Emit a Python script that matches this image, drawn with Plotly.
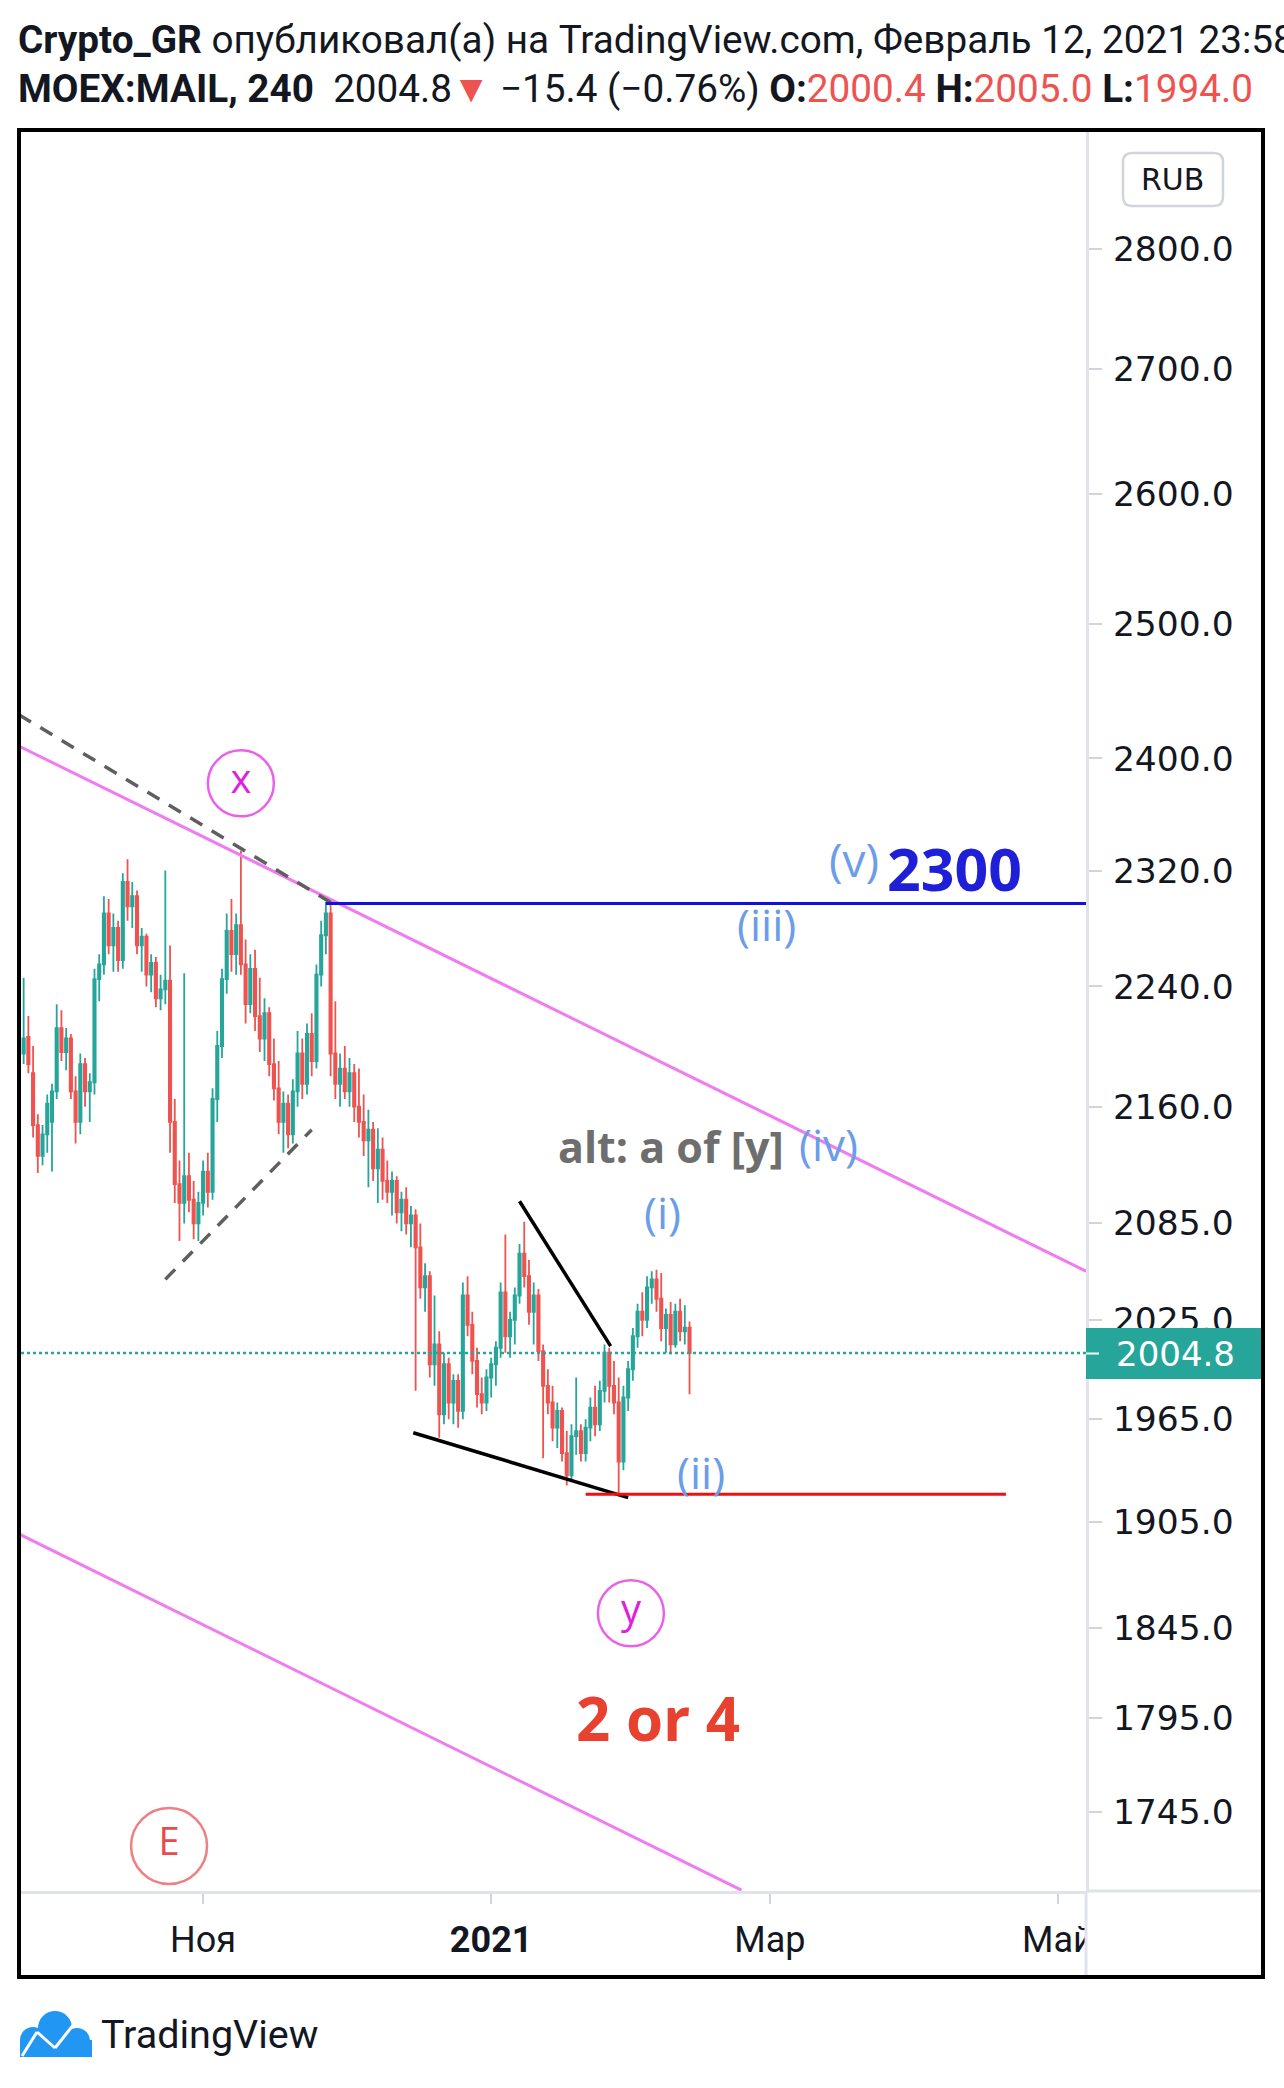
import numpy as np
import pandas as pd
import plotly.graph_objects as go

# ---------------- data ----------------
start_date = "2020-09-23"
opens = [2180, 2195, 2206, 2182, 2148, 2128, 2142, 2150, 2170, 2212,
         2196, 2205, 2170, 2150, 2188, 2170, 2176, 2245, 2255, 2290,
         2268, 2280, 2258, 2312, 2295, 2302, 2268, 2274, 2248, 2256,
         2232, 2238, 2244, 2150, 2110, 2098, 2115, 2100, 2085, 2098,
         2118, 2105, 2165, 2200, 2245, 2278, 2262, 2282, 2255, 2228,
         2252, 2220, 2205, 2222, 2188, 2172, 2150, 2162, 2142, 2170,
         2195, 2175, 2208, 2190, 2248, 2275, 2290, 2195, 2175, 2185,
         2170, 2182, 2160, 2150, 2138, 2145, 2120, 2132, 2112, 2105,
         2112, 2092, 2100, 2085, 2090, 2070, 2045, 2052, 1998, 2010,
         1968, 1998, 1975, 1988, 1970, 2040, 2022, 2000, 1980, 1975,
         1990, 1998, 2008, 2042, 2015, 2025, 2040, 2066, 2052, 2030,
         2040, 2006, 1985, 1975, 1960, 1970, 1945, 1932, 1955, 1958,
         1945, 1960, 1972, 1962, 1982, 2005, 1985, 1975, 1940, 1978,
         1995, 2015, 2030, 2025, 2045, 2050, 2038, 2020, 2028, 2010,
         2030, 2018, 2020.2]
highs = [2198, 2246, 2220, 2200, 2155, 2148, 2168, 2175, 2228, 2224,
         2212, 2208, 2180, 2195, 2192, 2182, 2252, 2262, 2302, 2300,
         2290, 2285, 2318, 2328, 2312, 2306, 2280, 2276, 2262, 2260,
         2248, 2320, 2268, 2165, 2125, 2249, 2130, 2112, 2105, 2125,
         2130, 2172, 2210, 2252, 2290, 2300, 2290, 2334, 2272, 2262,
         2265, 2246, 2232, 2226, 2205, 2190, 2170, 2168, 2178, 2210,
         2205, 2215, 2222, 2255, 2285, 2298, 2296, 2230, 2195, 2200,
         2192, 2188, 2185, 2168, 2158, 2150, 2146, 2140, 2125, 2118,
         2115, 2105, 2108, 2096, 2094, 2085, 2060, 2055, 2040, 2018,
         2005, 2002, 1992, 1992, 2048, 2052, 2030, 2008, 1990, 1995,
         2002, 2012, 2048, 2078, 2030, 2045, 2072, 2086, 2062, 2048,
         2044, 2010, 1995, 1985, 1975, 1972, 1958, 1962, 1990, 1962,
         1965, 1978, 1985, 1988, 2010, 2008, 2000, 1990, 1985, 2000,
         2020, 2035, 2042, 2052, 2055, 2056, 2054, 2032, 2036, 2035,
         2038, 2034, 2024]
lows = [2176, 2188, 2182, 2140, 2117, 2122, 2130, 2118, 2165, 2190,
        2184, 2165, 2136, 2142, 2160, 2150, 2168, 2230, 2248, 2262,
        2250, 2250, 2252, 2285, 2280, 2262, 2250, 2240, 2236, 2226,
        2224, 2228, 2130, 2098, 2074, 2085, 2092, 2075, 2074, 2090,
        2095, 2100, 2150, 2192, 2235, 2250, 2248, 2248, 2215, 2222,
        2210, 2196, 2190, 2180, 2164, 2142, 2130, 2133, 2136, 2160,
        2165, 2168, 2180, 2185, 2240, 2262, 2180, 2165, 2160, 2165,
        2160, 2150, 2140, 2128, 2108, 2112, 2098, 2100, 2098, 2090,
        2085, 2080, 2078, 2070, 1982, 2038, 2030, 1990, 1985, 1954,
        1962, 1965, 1962, 1960, 1965, 2015, 1992, 1972, 1968, 1970,
        1978, 1985, 2002, 2005, 2002, 2010, 2035, 2045, 2022, 2010,
        2000, 1942, 1968, 1952, 1948, 1940, 1926, 1928, 1944, 1940,
        1940, 1952, 1955, 1958, 1975, 1975, 1968, 1920, 1935, 1970,
        1988, 2008, 2015, 2020, 2035, 2030, 2012, 2005, 2004, 2008,
        2012, 2010, 1980]
closes = [2196, 2205, 2188, 2148, 2128, 2142, 2162, 2170, 2212, 2196,
          2205, 2170, 2150, 2188, 2170, 2176, 2245, 2255, 2290, 2268,
          2280, 2258, 2312, 2295, 2302, 2268, 2274, 2248, 2256, 2232,
          2238, 2244, 2150, 2110, 2098, 2115, 2100, 2085, 2098, 2118,
          2105, 2165, 2200, 2245, 2278, 2262, 2282, 2255, 2228, 2252,
          2220, 2205, 2222, 2188, 2172, 2150, 2162, 2142, 2170, 2195,
          2175, 2208, 2190, 2248, 2275, 2290, 2195, 2175, 2185, 2170,
          2182, 2160, 2150, 2138, 2145, 2120, 2132, 2112, 2105, 2112,
          2092, 2100, 2085, 2090, 2070, 2045, 2052, 1998, 2010, 1968,
          1998, 1975, 1988, 1970, 2040, 2022, 2000, 1980, 1975, 1990,
          1998, 2008, 2042, 2015, 2025, 2040, 2066, 2052, 2030, 2040,
          2006, 1985, 1975, 1960, 1970, 1945, 1932, 1955, 1958, 1945,
          1960, 1972, 1962, 1982, 2005, 1985, 1975, 1940, 1978, 1995,
          2015, 2030, 2025, 2045, 2050, 2038, 2020, 2028, 2010, 2030,
          2018, 2020.2, 2004.8]

last_price = 2004.8
price_ticks = [2800, 2700, 2600, 2500, 2400, 2320, 2240, 2160, 2085, 2025,
               1965, 1905, 1845, 1795, 1745]
price_ticktext = [f"{v:.1f}" for v in price_ticks]
month_ticks = ["2020-11-01", "2021-01-01", "2021-03-01", "2021-05-01"]
month_ticktext = ["Ноя", "<b>2021</b>", "Мар", "Май"]

# drawings (date, price)
upper_channel = (["2020-09-23", "2021-05-07"], [2409, 2055])
lower_channel = (["2020-09-23", "2021-02-23"], [1898, 1704])
dash_upper = (["2020-09-23", "2020-11-28 21:00"], [2432, 2296])
dash_lower = (["2020-10-24", "2020-11-24"], [2050, 2145])
wedge_upper = (["2021-01-07", "2021-01-26 07:00"], [2099, 2009])
wedge_lower = (["2020-12-15 12:00", "2021-01-30"], [1957, 1919])
target_level = (["2020-11-27", "2021-05-07"], 2297)
support_level = (["2021-01-21", "2021-04-20"], 1921)
circled_labels = ["x", "y", "E"]
circled_dates = ["2020-11-09", "2021-01-30 14:00", "2020-10-24 19:00"]
circled_prices = [2382, 1853, 1727]

dates = pd.date_range(start_date, periods=len(opens), freq="D")

# ---------------- layout helpers ----------------
W, H = 1284, 2088
PL, PR, PT, PB = 21, 1086, 132, 1891
PW, PH = PR - PL, PB - PT


def px(x, y):
    return (x - PL) / PW, (PB - y) / PH


UP, DOWN = "#26a69a", "#ef5350"
TXT = "#131722"
AXC = "#e0e3eb"
COND = "Roboto, Open Sans, sans-serif"
WIDE = "DejaVu Sans, Verdana, sans-serif"
LBL = "Open Sans, Lato, sans-serif"

fig = go.Figure()
fig.add_trace(go.Candlestick(
    x=dates, open=opens, high=highs, low=lows, close=closes,
    increasing=dict(line=dict(color=UP, width=1.8), fillcolor=UP),
    decreasing=dict(line=dict(color=DOWN, width=1.8), fillcolor=DOWN),
    whiskerwidth=0, showlegend=False, hoverinfo="skip",
))

# circled wave labels
circ_colors = ["#e01fe0", "#e01fe0", "#e84a4f"]
circ_sizes = [66, 66, 76]
fig.add_trace(go.Scatter(
    x=circled_dates, y=circled_prices, mode="markers+text",
    text=circled_labels, textposition="middle center",
    textfont=dict(size=[40, 40, 38], family=LBL, color=circ_colors),
    marker=dict(size=circ_sizes, color="rgba(0,0,0,0)",
                line=dict(color=circ_colors, width=2.5)),
    showlegend=False, hoverinfo="skip", cliponaxis=False,
))

shapes = []


def seg(pts, color, width, dash="solid"):
    xs, ys = pts
    shapes.append(dict(type="line", xref="x", yref="y", x0=xs[0], x1=xs[1],
                       y0=ys[0], y1=ys[1], line=dict(color=color, width=width, dash=dash)))


seg(upper_channel, "#ef7df0", 3)
seg(lower_channel, "#ef7df0", 3)
seg(dash_upper, "#5f5f5f", 3.5, "14px,11px")
seg(dash_lower, "#5f5f5f", 3.5, "14px,11px")
seg(wedge_upper, "#000000", 3.5)
seg(wedge_lower, "#000000", 3.5)
seg((target_level[0], [target_level[1]] * 2), "#1010e0", 3)
seg((support_level[0], [support_level[1]] * 2), "#ee1111", 3)

# last price dotted line
shapes.append(dict(type="line", xref="paper", yref="y", x0=0, x1=1,
                   y0=last_price, y1=last_price,
                   line=dict(color=UP, width=2.5, dash="dot")))


def prect(x0, y0, x1, y1, **kw):
    a, b = px(x0, y0)
    c, d = px(x1, y1)
    shapes.append(dict(type="rect", xref="paper", yref="paper",
                       x0=a, x1=c, y0=b, y1=d, **kw))


def pline(x0, y0, x1, y1, color, width):
    a, b = px(x0, y0)
    c, d = px(x1, y1)
    shapes.append(dict(type="line", xref="paper", yref="paper",
                       x0=a, x1=c, y0=b, y1=d, line=dict(color=color, width=width)))


# cover below price scale, then axis lines extension
prect(1087, 1893, 1262, 1976, fillcolor="white", line=dict(width=0), layer="above")
pline(1086, 1891, 1262, 1891, AXC, 3)
pline(1086, 1891, 1086, 1977, AXC, 3)
# last price tag
prect(1086, 1328, 1264, 1379, fillcolor=UP, line=dict(width=0), layer="above")
pline(1086, 1353.5, 1099, 1353.5, "white", 2)


def rounded(x0, y0, x1, y1, r):
    def P(x, y):
        a, b = px(x, y)
        return f"{a:.6f},{b:.6f}"
    return (f"M{P(x0 + r, y0)} L{P(x1 - r, y0)} Q{P(x1, y0)} {P(x1, y0 + r)} "
            f"L{P(x1, y1 - r)} Q{P(x1, y1)} {P(x1 - r, y1)} L{P(x0 + r, y1)} "
            f"Q{P(x0, y1)} {P(x0, y1 - r)} L{P(x0, y0 + r)} Q{P(x0, y0)} {P(x0 + r, y0)} Z")


shapes.append(dict(type="path", xref="paper", yref="paper",
                   path=rounded(1123, 153, 1223, 206, 9),
                   line=dict(color="#d1d4dc", width=2.5), fillcolor="white"))

# outer frame
prect(19, 130, 1263, 1977, line=dict(color="black", width=4), fillcolor="rgba(0,0,0,0)")

# TradingView logo (icon)
for cx, cy, r in [(33, 2040, 13), (55, 2028, 17), (77, 2041, 13)]:
    a0, b0 = px(cx - r, cy - r)
    a1, b1 = px(cx + r, cy + r)
    shapes.append(dict(type="circle", xref="paper", yref="paper", x0=a0, x1=a1,
                       y0=b0, y1=b1, fillcolor="#2196f3", line=dict(width=0)))
prect(20, 2040, 92, 2057, fillcolor="#2196f3", line=dict(width=0))
pts = [(22, 2056), (37, 2032), (55, 2048), (74, 2024)]
for (xa, ya), (xb, yb) in zip(pts[:-1], pts[1:]):
    pline(xa, ya, xb, yb, "white", 3)

annotations = []


def ptext(x, y, text, size, family=COND, color=TXT, xanchor="left"):
    a, b = px(x, y)
    annotations.append(dict(xref="paper", yref="paper", x=a, y=b, text=text,
                            showarrow=False, xanchor=xanchor, yanchor="middle",
                            font=dict(size=size, family=family, color=color)))


def dtext(date, price, text, size, color, bold=False, family=LBL):
    t = f"<b>{text}</b>" if bold else text
    annotations.append(dict(xref="x", yref="y", x=date, y=np.log10(price), text=t,
                            showarrow=False, xanchor="center", yanchor="middle",
                            font=dict(size=size, family=family, color=color)))


red = "#ef5350"
ptext(16, 40, "<b>Crypto_GR</b> опубликовал(а) на TradingView.com, Февраль 12, 2021 23:58", 38.7)
ptext(16, 88, f"<b>MOEX:MAIL, 240</b>&nbsp; {last_price}<span style='color:{red}'>▼</span> −15.4 (−0.76%) "
      f"<b>O:</b><span style='color:{red}'>2000.4</span> <b>H:</b><span style='color:{red}'>2005.0</span> "
      f"<b>L:</b><span style='color:{red}'>1994.0</span>", 38.7)
ptext(99, 2034, "TradingView", 39.5)
ptext(1173, 179.5, "RUB", 30, family=WIDE, xanchor="center")
ptext(1175, 1353.5, f"{last_price}", 34, family=WIDE, color="white", xanchor="center")

WAVE = "#6b9de8"
dtext("2021-03-18 19:00", 2328, "(v)", 46, WAVE)
dtext("2021-04-09", 2322, "2300", 59, "#1f1fd8", bold=True)
dtext("2021-02-28 05:00", 2283, "(iii)", 44, WAVE)
dtext("2021-02-08", 2134, "alt: a of [y]", 43, "#6e6e6e", bold=True)
dtext("2021-03-13 12:00", 2136, "(iv)", 44, WAVE)
dtext("2021-02-06 05:00", 2092, "(i)", 44, WAVE)
dtext("2021-02-14 10:00", 1934, "(ii)", 44, WAVE)
dtext("2021-02-05 07:00", 1795, "2 or 4", 60, "#e8412f", bold=True)

fig.update_layout(
    width=W, height=H, margin=dict(l=PL, r=W - PR, t=PT, b=H - PB),
    paper_bgcolor="white", plot_bgcolor="white",
    shapes=shapes, annotations=annotations, showlegend=False,
    xaxis=dict(type="date", range=["2020-09-23 10:34", "2021-05-06 22:48"],
               rangeslider=dict(visible=False), showgrid=False, zeroline=False,
               showline=True, linecolor=AXC, linewidth=3,
               ticks="outside", ticklen=10, tickwidth=2, tickcolor="#d1d4dc",
               tickvals=month_ticks, ticktext=month_ticktext,
               tickfont=dict(size=36, family=COND, color=TXT),
               ticklabelstandoff=5, fixedrange=True),
    yaxis=dict(type="log", side="right",
               range=[np.log10(1703.6), np.log10(2901)],
               showgrid=False, zeroline=False, showline=True, linecolor=AXC, linewidth=3,
               ticks="outside", ticklen=13, tickwidth=2, tickcolor="#d1d4dc",
               tickvals=price_ticks, ticktext=price_ticktext,
               tickfont=dict(size=34.5, family=WIDE, color=TXT),
               ticklabelstandoff=4, fixedrange=True),
)

fig.write_html("out.html", config={"displayModeBar": False},
               post_script="document.body.style.margin='0';document.body.style.padding='0';")
